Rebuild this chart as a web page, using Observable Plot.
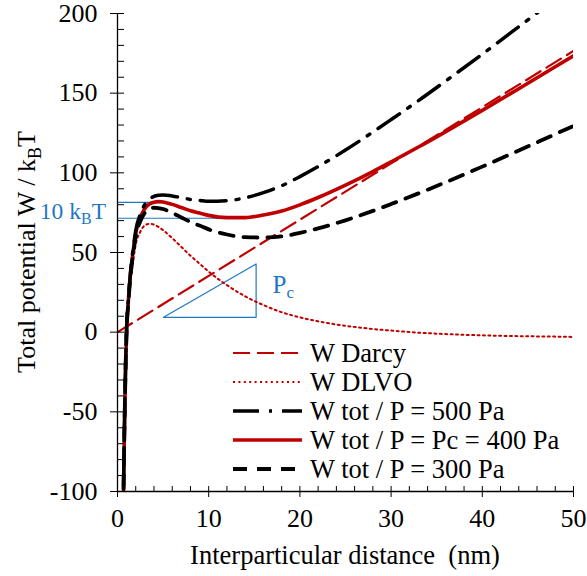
<!DOCTYPE html>
<html><head><meta charset="utf-8">
<script src="https://cdn.jsdelivr.net/npm/d3@7"></script>
<script src="https://cdn.jsdelivr.net/npm/@observablehq/plot@0.6"></script>
<style>html,body{margin:0;padding:0;background:#fff} svg{display:block}</style>
</head><body><div id="chart"></div>
<script>
// ---- data ----
const distance = [0.6, 0.7, 0.8, 0.9, 1.0, 1.2, 1.4, 1.6, 1.8, 2.0, 2.5, 3, 3.5, 4, 4.5, 5, 6, 7, 8, 9, 10, 12, 14, 16, 18, 20, 22, 25, 28, 30, 33, 36, 40, 44, 48, 50];
const wDLVO = [-130, -85, -50, -22, -2, 16, 30, 40, 48, 55, 63, 67, 68, 67.5, 66, 64, 59, 53.5, 48, 43, 38, 29.5, 22.5, 17, 12.5, 9.3, 6.8, 4, 2, 1, -0.3, -1.2, -2, -2.5, -2.8, -3];
const wTot400 = [-127.9, -82.5, -47.2, -18.8, 1.5, 20.2, 34.9, 45.6, 54.4, 62.1, 71.8, 77.6, 80.4, 81.6, 81.9, 81.7, 80.2, 78.2, 76.2, 74.8, 73.3, 71.9, 71.9, 73.5, 76.0, 79.9, 84.5, 92.3, 100.8, 106.9, 116.2, 125.9, 139.2, 152.8, 166.6, 173.5];
const wTot300 = [-128.4, -83.1, -47.9, -19.6, 0.6, 19.2, 33.7, 44.2, 52.8, 60.3, 69.6, 75.0, 77.3, 78.1, 77.9, 77.3, 74.9, 72.0, 69.2, 66.9, 64.5, 61.3, 59.6, 59.4, 60.1, 62.3, 65.1, 70.2, 76.1, 80.4, 87.1, 94.1, 103.9, 114.0, 124.3, 129.4];
const wTot500 = [-127.4, -81.9, -46.5, -18.0, 2.4, 21.3, 36.2, 47.1, 55.9, 63.8, 74.0, 80.2, 83.4, 85.2, 85.9, 86.1, 85.5, 84.4, 83.3, 82.7, 82.1, 82.5, 84.3, 87.6, 91.9, 97.6, 103.9, 114.3, 125.6, 133.4, 145.3, 157.7, 174.5, 191.7, 209.0, 217.6];
const darcyX = [0, 10, 20, 30, 40, 50];
const wDarcy = [0, 35.3, 70.6, 105.9, 141.2, 176.5];

const xMajor = [0, 10, 20, 30, 40, 50];
const xMinor = [2, 4, 6, 8, 12, 14, 16, 18, 22, 24, 26, 28, 32, 34, 36, 38, 42, 44, 46, 48];
const yMajor = [-100, -50, 0, 50, 100, 150, 200];
const yMinor = [-90, -80, -70, -60, -40, -30, -20, -10, 10, 20, 30, 40, 60, 70, 80, 90, 110, 120, 130, 140, 160, 170, 180, 190];

// annotation (data coordinates)
const kbtLevels = [{x1: 0, x2: 3.8, y: 81.5}, {x1: 0, x2: 12.6, y: 71.5}];
const triangle = [{x: 5.05, y: 9.3}, {x: 15.2, y: 9.3}, {x: 15.2, y: 42.8}, {x: 5.05, y: 9.3}];

const legendItems = [
  {label: "W Darcy", stroke: "#C00000", dash: "17,7", width: 2.2},
  {label: "W DLVO", stroke: "#C00000", dash: "2,3.4", width: 2},
  {label: "W tot / P = 500 Pa", stroke: "#000", dash: "26,10,3,10", width: 3.5},
  {label: "W tot / P = Pc = 400 Pa", stroke: "#C00000", dash: null, width: 3.6},
  {label: "W tot / P = 300 Pa", stroke: "#000", dash: "14,10", width: 3.8}
];

const RED = "#C00000", BLUE = "#1F77C4";
const FONT = "'Liberation Serif','Times New Roman',Times,serif";
const FS = 26;

const rows = (ys) => distance.map((x, i) => ({x, y: ys[i]}));
const darcyRows = darcyX.map((x, i) => ({x, y: wDarcy[i]}));

const plot = Plot.plot({
  width: 587, height: 576,
  marginLeft: 117, marginRight: 14, marginTop: 13, marginBottom: 85,
  style: {fontFamily: FONT, fontSize: FS + "px", background: "white", color: "black", overflow: "visible"},
  x: {domain: [0, 50]},
  y: {domain: [-100, 200]},
  marks: [
    Plot.ruleY(kbtLevels, {y: "y", x1: "x1", x2: "x2", stroke: BLUE, strokeWidth: 1.2}),
    Plot.line(triangle, {x: "x", y: "y", stroke: BLUE, strokeWidth: 1.2}),
    Plot.line(darcyRows, {x: "x", y: "y", stroke: RED, strokeWidth: 2.2, strokeDasharray: "17,7", clip: true}),
    Plot.line(rows(wDLVO), {x: "x", y: "y", stroke: RED, strokeWidth: 2, strokeDasharray: "2,3.4", curve: "monotone-x", clip: true}),
    Plot.line(rows(wTot400), {x: "x", y: "y", stroke: RED, strokeWidth: 3.6, curve: "monotone-x", clip: true}),
    Plot.line(rows(wTot500), {x: "x", y: "y", stroke: "#000", strokeWidth: 3.5, strokeDasharray: "26,10,3,10", curve: "monotone-x", clip: true}),
    Plot.line(rows(wTot300), {x: "x", y: "y", stroke: "#000", strokeWidth: 3.8, strokeDasharray: "14,10", curve: "monotone-x", clip: true}),
    Plot.ruleX([0], {stroke: "#000", strokeWidth: 1.3}),
    Plot.ruleY([-100], {stroke: "#000", strokeWidth: 1.3}),
    Plot.axisY({ticks: yMajor, tickSize: 7, tickPadding: 13, label: null, tickFormat: d => String(d)}),
    Plot.axisY({ticks: yMajor, tickSize: -7, label: null, tickFormat: () => ""}),
    Plot.axisY({ticks: yMinor, tickSize: -7, label: null, tickFormat: () => ""}),
    Plot.axisX({ticks: xMajor, tickSize: 6, tickPadding: 11, label: null, tickFormat: d => String(d)}),
    Plot.axisX({ticks: xMajor, tickSize: -5, label: null, tickFormat: () => ""}),
    Plot.axisX({ticks: xMinor, tickSize: -5, label: null, tickFormat: () => ""})
  ]
});
document.getElementById("chart").appendChild(plot);

const svg = d3.select(plot);
const sx = plot.scale("x"), sy = plot.scale("y");
const X = v => sx.apply(v), Y = v => sy.apply(v);
const g = svg.append("g").attr("font-family", FONT).attr("text-anchor", "start");

// y-axis title with subscript
const yt = g.append("text")
  .attr("transform", `translate(35,${(Y(200) + Y(-100)) / 2}) rotate(-90)`)
  .attr("text-anchor", "middle").attr("font-size", FS).attr("fill", "#000");
yt.append("tspan").text("Total potential W / k");
yt.append("tspan").attr("font-size", 18).attr("dy", 6).text("B");
yt.append("tspan").attr("dy", -6).text("T");

// x-axis title
g.append("text").attr("x", (X(0) + X(50)) / 2).attr("y", 564)
  .attr("text-anchor", "middle").attr("font-size", 26.5).attr("fill", "#000")
  .style("white-space", "pre").text("Interparticular distance  (nm)");

// 10 kBT label
const kt = g.append("text").attr("x", X(0) - 11).attr("y", Y(71.5) + 1.5)
  .attr("text-anchor", "end").attr("font-size", 23.5).attr("fill", BLUE);
kt.append("tspan").text("10 k");
kt.append("tspan").attr("font-size", 16).attr("dy", 5).text("B");
kt.append("tspan").attr("dy", -5).text("T");

// Pc label
const pc = g.append("text").attr("x", X(15.2) + 17).attr("y", Y(26) + 3)
  .attr("text-anchor", "start").attr("font-size", 25).attr("fill", BLUE);
pc.append("tspan").text("P");
pc.append("tspan").attr("font-size", 17).attr("dy", 5).text("c");

// legend
const lx0 = 233, lx1 = 302, ltx = 310, ly0 = 353, lstep = 29;
legendItems.forEach((it, i) => {
  const y = ly0 + i * lstep;
  g.append("line").attr("x1", lx0).attr("x2", lx1).attr("y1", y).attr("y2", y)
    .attr("stroke", it.stroke).attr("stroke-width", it.width)
    .attr("stroke-dasharray", it.dash);
  g.append("text").attr("x", ltx).attr("y", y + 9).attr("font-size", 26.5)
    .attr("text-anchor", "start").attr("fill", "#000").text(it.label);
});
</script>
</body></html>
